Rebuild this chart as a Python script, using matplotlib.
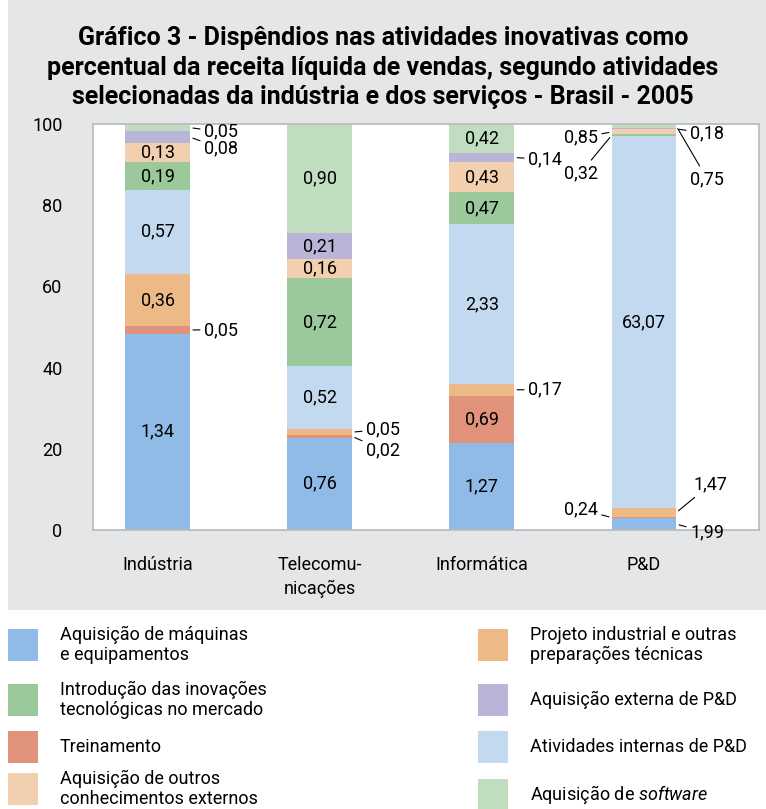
import numpy as np
import matplotlib
matplotlib.use('Agg')
import matplotlib.pyplot as plt
from matplotlib.patches import Rectangle

plt.rcParams['font.family'] = ['Roboto', 'DejaVu Sans']
plt.rcParams['mathtext.fontset'] = 'custom'
plt.rcParams['mathtext.rm'] = 'Roboto'
plt.rcParams['mathtext.it'] = 'Roboto:italic'

# dados (percentual da receita liquida de vendas)
categorias = ['Indústria', 'Telecomu-\nnicações', 'Informática', 'P&D']
maquinas = [1.34, 0.76, 1.27, 1.99]
treinamento = [0.05, 0.02, 0.69, 0.24]
projeto = [0.36, 0.05, 0.17, 1.47]
internas = [0.57, 0.52, 2.33, 63.07]
introducao = [0.19, 0.72, 0.47, 0.32]
outros = [0.13, 0.16, 0.43, 0.85]
externa = [0.08, 0.21, 0.14, 0.18]
software = [0.05, 0.90, 0.42, 0.75]

# ordem de empilhamento (de baixo para cima)
series = [maquinas, treinamento, projeto, internas, introducao, outros, externa, software]
cores = ['#8fbbe6', '#e0937a', '#edb987', '#c3d9f0', '#9bc99b', '#f2cfae', '#b9b5d9', '#c0ddc0']

valores = np.array(series)
totais = valores.sum(axis=0)
pct = valores / totais * 100
base = np.vstack([np.zeros(4), np.cumsum(pct, axis=0)[:-1]])

W, H = 766, 809
fig = plt.figure(figsize=(W/100, H/100), dpi=100)
fig.patch.set_facecolor('white')
fig.patches.append(Rectangle((8/W, 1-610/H), 1-8/W, 610/H, transform=fig.transFigure,
                             facecolor='#e5e6e8', edgecolor='none', zorder=-10))

ax = fig.add_axes([93/W, 1-530/H, 666/W, 406/H])
x = np.arange(4)
bw = 0.4
for k in range(len(series)):
    ax.bar(x, pct[k], bw, bottom=base[k], color=cores[k], edgecolor='none')

ax.set_xlim(-0.4, 3.71)
ax.set_ylim(0, 100)
ax.set_yticks([0, 20, 40, 60, 80, 100])
ax.set_xticks(x)
ax.set_xticklabels(categorias, fontsize=13, linespacing=1.4)
ax.tick_params(axis='y', length=0, pad=22, labelsize=13)
ax.tick_params(axis='x', length=0, pad=19)
for s in ax.spines.values():
    s.set_color('#bdbdbd')
    s.set_linewidth(1.3)

def fmt(v):
    return ('%.2f' % v).replace('.', ',')

# rotulos dentro das barras (segmentos grandes)
dentro = [(0, 0), (0, 2), (0, 3), (0, 4), (0, 5),
          (1, 0), (1, 3), (1, 4), (1, 5), (1, 6), (1, 7),
          (2, 0), (2, 1), (2, 3), (2, 4), (2, 5), (2, 7),
          (3, 3)]
for (i, k) in dentro:
    yc = base[k][i] + pct[k][i] / 2
    ax.text(x[i], yc, fmt(valores[k][i]), ha='center', va='center', fontsize=13)

# rotulos fora das barras, com linhas de chamada
# (barra, serie, lado, deslocamento do texto em pontos)
fora = [
    (0, 7, 'r', (10, -3)), (0, 6, 'r', (10, -8)), (0, 1, 'r', (10, 0)),
    (1, 2, 'r', (10, 2)), (1, 1, 'r', (10, -10)),
    (2, 2, 'r', (10, 0)), (2, 6, 'r', (10, -1)),
    (3, 5, 'l', (-10, -4)), (3, 4, 'l', (-10, -27)),
    (3, 6, 'r', (10, -3)), (3, 7, 'r', (10, -38)),
    (3, 2, 'r', (12, 20)), (3, 0, 'r', (10, -6)), (3, 1, 'l', (-10, 6)),
]
for (i, k, lado, off) in fora:
    yc = base[k][i] + pct[k][i] / 2
    xe = x[i] + bw / 2 if lado == 'r' else x[i] - bw / 2
    ha = 'left' if lado == 'r' else 'right'
    ax.annotate(fmt(valores[k][i]), xy=(xe, yc), xytext=off, textcoords='offset points',
                ha=ha, va='center', fontsize=13,
                arrowprops=dict(arrowstyle='-', color='black', lw=0.8,
                                shrinkA=1, shrinkB=2))

fig.text(0.5, 1-26/H, 'Gráfico 3 - Dispêndios nas atividades inovativas como\n'
         'percentual da receita líquida de vendas, segundo atividades\n'
         'selecionadas da indústria e dos serviços - Brasil - 2005',
         ha='center', va='top', fontsize=18, fontweight='bold', linespacing=1.3)

# legenda
nomes = ['Aquisição de máquinas\ne equipamentos',
         'Treinamento',
         'Projeto industrial e outras\npreparações técnicas',
         'Atividades internas de P&D',
         'Introdução das inovações\ntecnológicas no mercado',
         'Aquisição de outros\nconhecimentos externos',
         'Aquisição externa de P&D',
         'Aquisição de $\\it{software}$']
pos = [(0, 645), (0, 747), (1, 645), (1, 747), (0, 700), (0, 789), (1, 700), (1, 795)]
for k in range(len(nomes)):
    col, yc = pos[k]
    xq = 8 if col == 0 else 478
    xt = 60 if col == 0 else 530
    fig.patches.append(Rectangle((xq/W, 1-(yc+16)/H), 30/W, 32/H, transform=fig.transFigure,
                                 facecolor=cores[k], edgecolor='none'))
    fig.text(xt/W, 1-yc/H, nomes[k], ha='left', va='center', fontsize=13, linespacing=1.15)

fig.savefig('out.png', dpi=100)
